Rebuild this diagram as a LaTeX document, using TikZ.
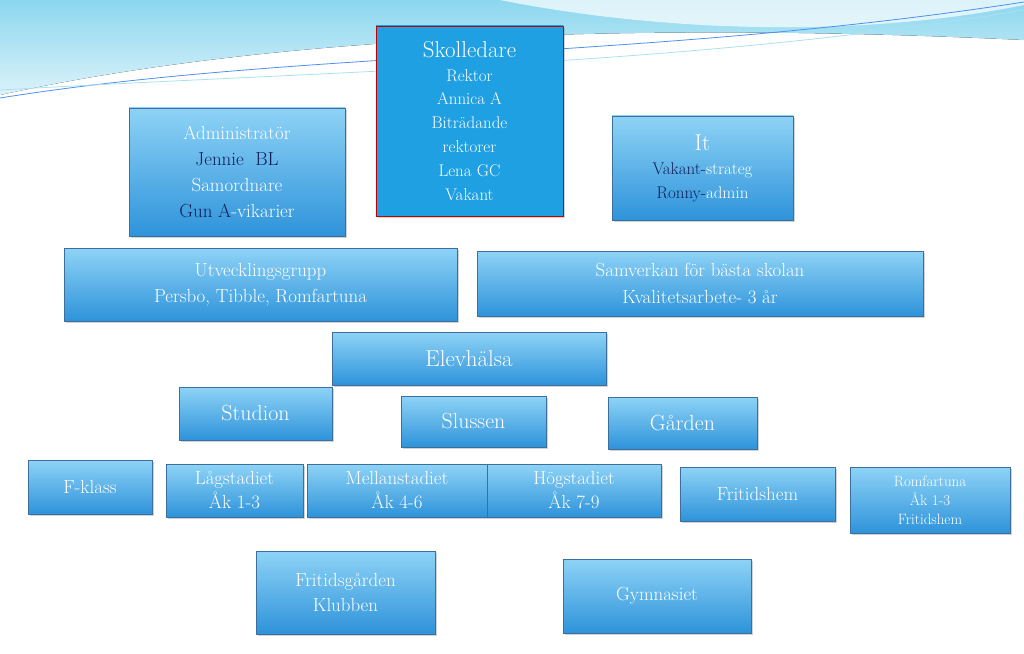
\documentclass[tikz,border=0pt]{standalone}
\usepackage{tikz}
\usetikzlibrary{shadows, positioning, calc}
\definecolor{waveBlue}{HTML}{6FCDEB}
\definecolor{boxTop}{HTML}{8ED3F6}
\definecolor{boxBot}{HTML}{2E93DA}
\definecolor{boxLine}{HTML}{3C6E9E}
\definecolor{chiefBlue}{HTML}{1FA0E2}
\definecolor{navyText}{HTML}{10205A}
\tikzset{
    unitbox/.style={draw=boxLine, thick, top color=boxTop, bottom color=boxBot,
        text=white, align=center, inner sep=2bp, drop shadow={opacity=0.35},
        font=\fontsize{19}{26}\selectfont},
}
\newcommand{\OrgBox}[7][]{
    \node[unitbox, #1, minimum width={(#5-#3)*1bp}, minimum height={(#6-#4)*1bp}]
        (#2) at ({(#3+#5)/2},{-(#4+#6)/2}) {#7};
}
\newcommand{\BigLine}[1]{{\fontsize{23}{26}\selectfont #1}}
\begin{document}
\begin{tikzpicture}[x=1bp, y=1bp]
        \useasboundingbox (0,0) rectangle (1024,-654);
        \fill[white] (0,0) rectangle (1024,-654);
        % Wave at top
        \fill[top color=waveBlue!80, bottom color=waveBlue!25] (0,0) -- (0,-95)
            .. controls (250,-40) and (600,-20) .. (1024,-40) -- (1024,0) -- cycle;
        \fill[white, opacity=0.7] (500,0) .. controls (650,-30) and (850,-40) .. (1024,-5) -- (1024,0) -- cycle;
        \draw[waveBlue!70!blue, thick] (0,-98) .. controls (300,-50) and (650,-60) .. (1024,-2);
        \draw[waveBlue!60, thick] (0,-90) .. controls (350,-70) and (700,-65) .. (1024,-10);

        % Leadership
        \OrgBox[fill=chiefBlue, top color=chiefBlue, bottom color=chiefBlue, draw=red!75!black, font=\fontsize{17}{24}\selectfont]{skol}{376}{26}{563}{216}
            {\BigLine{Skolledare}\\Rektor\\Annica A\\Biträdande\\rektorer\\Lena GC\\Vakant}
        \OrgBox{admin}{129}{108}{345}{236}
            {Administratör\\\textcolor{navyText}{Jennie\ \ BL}\\Samordnare\\\textcolor{navyText}{Gun A}-vikarier}
        \OrgBox[font=\fontsize{17}{24}\selectfont]{it}{612}{116}{793}{220}
            {\BigLine{It}\\\textcolor{navyText}{Vakant-}strateg\\\textcolor{navyText}{Ronny-}admin}

        % Development
        \OrgBox{utv}{64}{248}{457}{321}{Utvecklingsgrupp\\Persbo, Tibble, Romfartuna}
        \OrgBox{samv}{477}{251}{923}{316}{Samverkan för bästa skolan\\[2bp]Kvalitetsarbete- 3 år}

        % Student health
        \OrgBox[font=\fontsize{23}{26}\selectfont]{elev}{332}{332}{606}{385}{Elevhälsa}
        \OrgBox[font=\fontsize{22}{26}\selectfont]{studion}{179}{387}{332}{440}{Studion}
        \OrgBox[font=\fontsize{22}{26}\selectfont]{slussen}{401}{396}{546}{447}{Slussen}
        \OrgBox[font=\fontsize{22}{26}\selectfont]{garden}{608}{397}{757}{449}{Gården}

        % Stages
        \OrgBox{fklass}{28}{460}{152}{514}{F-klass}
        \OrgBox[font=\fontsize{19}{24}\selectfont]{lag}{166}{464}{303}{517}{Lågstadiet\\Åk 1-3}
        \OrgBox[font=\fontsize{19}{24}\selectfont]{mellan}{307}{464}{487}{517}{Mellanstadiet\\Åk 4-6}
        \OrgBox[font=\fontsize{19}{24}\selectfont]{hog}{487}{464}{661}{517}{Högstadiet\\Åk 7-9}
        \OrgBox{fritid}{680}{467}{835}{521}{Fritidshem}
        \OrgBox[font=\fontsize{15}{19}\selectfont]{romf}{850}{467}{1010}{533}{Romfartuna\\Åk 1-3\\Fritidshem}

        % Other
        \OrgBox{klubben}{256}{551}{435}{634}{Fritidsgården\\Klubben}
        \OrgBox{gymn}{563}{559}{751}{633}{Gymnasiet}
    \end{tikzpicture}
\end{document}
